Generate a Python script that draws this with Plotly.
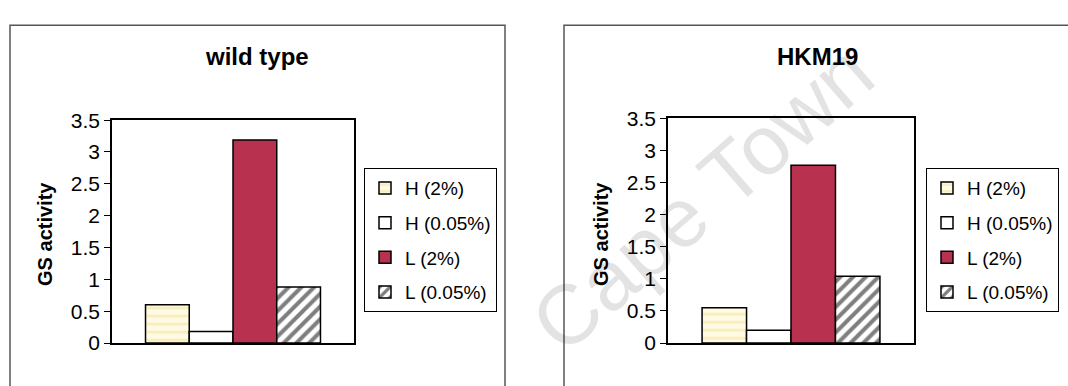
import plotly.graph_objects as go

W, H = 1068, 386

# Series (one bar per growth condition)
conditions = ["H (2%)", "H (0.05%)", "L (2%)", "L (0.05%)"]
wild_type = [0.60, 0.18, 3.19, 0.88]
hkm19 = [0.55, 0.20, 2.77, 1.04]
panel_titles = ["wild type", "HKM19"]
y_ticks = [0, 0.5, 1, 1.5, 2, 2.5, 3, 3.5]
y_tick_text = ["0", "0.5", "1", "1.5", "2", "2.5", "3", "3.5"]

FONT = "Arial, Liberation Sans, sans-serif"

styles = [
    dict(color="#fffbe6", pattern=dict(shape="-", fgcolor="#f1df90", bgcolor="#fffbe6",
                                       size=8, solidity=0.35)),
    dict(color="#ffffff"),
    dict(color="#b8324f"),
    dict(color="#ffffff", pattern=dict(shape="/", fgcolor="#000000", bgcolor="#ffffff",
                                       size=9, solidity=0.45)),
]


def px_x(v):
    return v / W


def px_y(v):
    return 1 - v / H


fig = go.Figure()

for p, (vals, ax, leg) in enumerate([(wild_type, "", "legend"), (hkm19, "2", "legend2")]):
    for i, (name, val) in enumerate(zip(conditions, vals)):
        st = styles[i]
        marker = dict(color=st["color"], line=dict(color="#000000", width=1.5))
        if "pattern" in st:
            marker["pattern"] = st["pattern"]
        fig.add_trace(go.Bar(
            x=["c"], y=[val], name=name, marker=marker,
            xaxis="x" + ax, yaxis="y" + ax, legend=leg,
            legendgroup=f"p{p}g{i}", showlegend=True,
        ))

axis_common = dict(showline=True, linecolor="#000000", linewidth=1.5, mirror=True,
                   showgrid=False, zeroline=False)
yaxis_common = dict(range=[0, 3.5], tickvals=y_ticks, ticktext=y_tick_text,
                    ticks="outside", ticklen=6, tickcolor="#000000", tickwidth=1.2,
                    tickfont=dict(size=21), **axis_common)
legend_common = dict(xanchor="left", yanchor="top", bordercolor="#000000", borderwidth=1,
                     bgcolor="#ffffff", font=dict(size=19), tracegroupgap=7,
                     traceorder="grouped", itemwidth=30)

fig.update_layout(
    width=W, height=H,
    margin=dict(l=0, r=0, t=0, b=0),
    paper_bgcolor="#ffffff", plot_bgcolor="#ffffff",
    barmode="group", bargap=0.277, bargroupgap=0,
    font=dict(family=FONT, color="#000000"),
    xaxis=dict(domain=[px_x(112), px_x(354)], anchor="y", showticklabels=False,
               ticks="", range=[-0.5, 0.5], **axis_common),
    yaxis=dict(domain=[px_y(352), px_y(115)], anchor="x", **yaxis_common),
    xaxis2=dict(domain=[px_x(668), px_x(914)], anchor="y2", showticklabels=False,
                ticks="", range=[-0.5, 0.5], **axis_common),
    yaxis2=dict(domain=[px_y(352), px_y(113)], anchor="x2", **yaxis_common),
    legend=dict(x=px_x(364), y=px_y(166), **legend_common),
    legend2=dict(x=px_x(926), y=px_y(166), **legend_common),
)

# Outer frames of the two chart panels
fig.add_shape(type="rect", xref="paper", yref="paper",
              x0=px_x(10), x1=px_x(505), y0=px_y(400), y1=px_y(14),
              line=dict(color="#555555", width=1.5), layer="below")
fig.add_shape(type="rect", xref="paper", yref="paper",
              x0=px_x(564), x1=px_x(1080), y0=px_y(400), y1=px_y(14),
              line=dict(color="#555555", width=1.5), layer="below")

# Panel titles
for title, cx in zip(panel_titles, [257, 817]):
    fig.add_annotation(text=f"<b>{title}</b>", x=px_x(cx), y=px_y(47), xref="paper",
                       yref="paper", showarrow=False, font=dict(size=24),
                       xanchor="center", yanchor="middle")

# Y axis titles
for cx in [45, 601]:
    fig.add_annotation(text="<b>GS activity</b>", x=px_x(cx), y=px_y(236), xref="paper",
                       yref="paper", showarrow=False, font=dict(size=20), textangle=-90,
                       xanchor="center", yanchor="middle")

# Faint diagonal watermark
fig.add_annotation(text="Cape Town", x=px_x(702), y=px_y(198), xref="paper",
                   yref="paper", showarrow=False, textangle=-41,
                   font=dict(size=84, color="rgba(0,0,0,0.11)"),
                   xanchor="center", yanchor="middle")

fig.write_html("out.html")
